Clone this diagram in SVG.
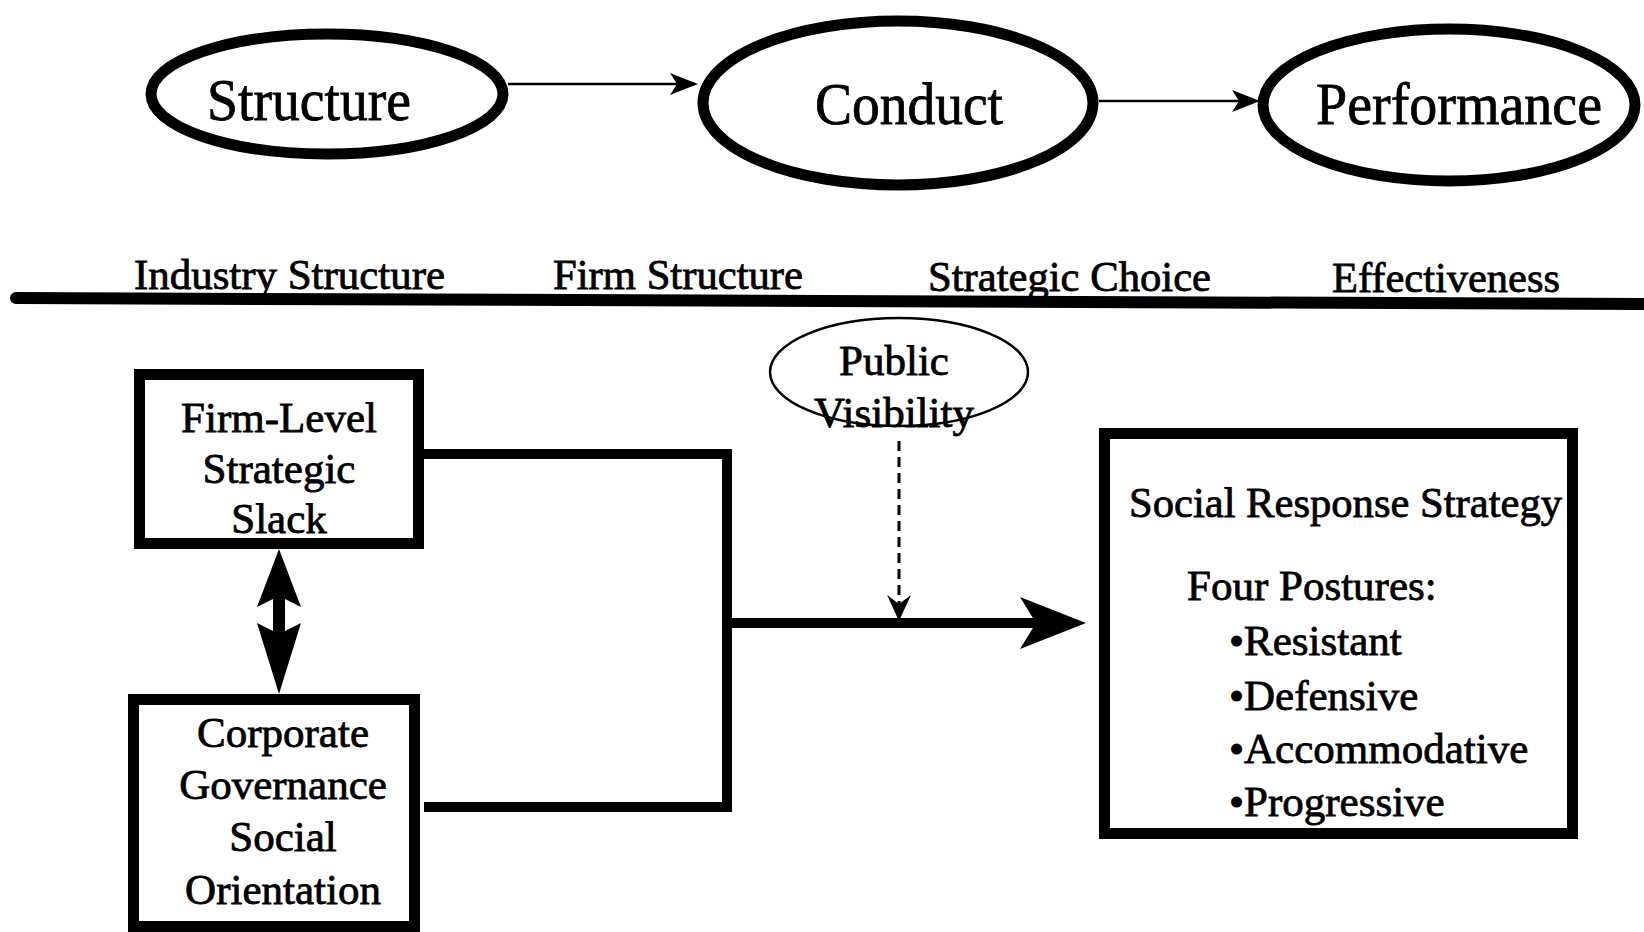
<svg xmlns="http://www.w3.org/2000/svg" width="1644" height="932" viewBox="0 0 1644 932">
  <style>
    .t { font-family: "Liberation Serif", "Times New Roman", serif; fill: #000; stroke: #000; stroke-width: 0.8; }
    .big { font-size: 60px; }
    .mid { font-size: 43px; }
    .ring { fill: none; stroke: #000; stroke-width: 11; }
    .box { fill: none; stroke: #000; stroke-width: 11; }
    .thin { fill: none; stroke: #000; stroke-width: 2.5; }
    .wire { fill: none; stroke: #000; stroke-width: 10; }
    .head { fill: #000; stroke: none; }
  </style>
  <rect width="1644" height="932" fill="#fff"/>

  <!-- Top row: Structure / Conduct / Performance -->
  <g id="structure">
    <ellipse cx="327" cy="94" rx="176" ry="60" class="ring"/>
    <text class="t big" x="309" y="120" text-anchor="middle" textLength="204" lengthAdjust="spacingAndGlyphs">Structure</text>
  </g>
  <g id="conduct">
    <ellipse cx="898" cy="103" rx="195" ry="82" class="ring"/>
    <text class="t big" x="909" y="124" text-anchor="middle" textLength="188" lengthAdjust="spacingAndGlyphs">Conduct</text>
  </g>
  <g id="performance">
    <ellipse cx="1449" cy="105" rx="186" ry="76" class="ring"/>
    <text class="t big" x="1459" y="124" text-anchor="middle" textLength="286" lengthAdjust="spacingAndGlyphs">Performance</text>
  </g>

  <!-- Stage labels above the divider -->
  <g id="stage-labels">
    <text class="t mid" x="134" y="289" textLength="311" lengthAdjust="spacingAndGlyphs">Industry Structure</text>
    <text class="t mid" x="553" y="289" textLength="250" lengthAdjust="spacingAndGlyphs">Firm Structure</text>
    <text class="t mid" x="928" y="291" textLength="283" lengthAdjust="spacingAndGlyphs">Strategic Choice</text>
    <text class="t mid" x="1332" y="292" textLength="228" lengthAdjust="spacingAndGlyphs">Effectiveness</text>
  </g>
  <line id="divider" x1="16" y1="298" x2="1644" y2="304" stroke="#000" stroke-width="12" stroke-linecap="round"/>

  <!-- Lower model -->
  <g id="slack">
    <rect x="139.5" y="374.5" width="279" height="169" class="box"/>
    <text class="t mid" x="279" y="432" text-anchor="middle">Firm-Level</text>
    <text class="t mid" x="279" y="483" text-anchor="middle">Strategic</text>
    <text class="t mid" x="279" y="533" text-anchor="middle">Slack</text>
  </g>
  <g id="governance">
    <rect x="133.5" y="699.5" width="281" height="227" class="box"/>
    <text class="t mid" x="283" y="747" text-anchor="middle">Corporate</text>
    <text class="t mid" x="283" y="799" text-anchor="middle">Governance</text>
    <text class="t mid" x="283" y="851" text-anchor="middle">Social</text>
    <text class="t mid" x="283" y="904" text-anchor="middle">Orientation</text>
  </g>
  <g id="visibility">
    <ellipse cx="899" cy="372" rx="129" ry="54" class="thin"/>
    <text class="t mid" x="894" y="375" text-anchor="middle">Public</text>
    <text class="t mid" x="894" y="427" text-anchor="middle">Visibility</text>
  </g>
  <g id="response">
    <rect x="1104.5" y="433.5" width="468" height="400" class="box"/>
    <text class="t mid" x="1129" y="517" textLength="433" lengthAdjust="spacingAndGlyphs">Social Response Strategy</text>
    <text class="t mid" x="1187" y="600">Four Postures:</text>
    <text class="t mid" x="1229" y="655">•Resistant</text>
    <text class="t mid" x="1229" y="710">•Defensive</text>
    <text class="t mid" x="1229" y="763">•Accommodative</text>
    <text class="t mid" x="1229" y="816">•Progressive</text>
  </g>

  <g id="connectors">
    <!-- Structure to Conduct -->
    <line x1="508" y1="84" x2="680" y2="84" stroke="#000" stroke-width="2.5"/>
    <path class="head" d="M698,84 L670,73 L677,84 L670,95 Z"/>
    <!-- Conduct to Performance -->
    <line x1="1099" y1="101" x2="1242" y2="101" stroke="#000" stroke-width="2.5"/>
    <path class="head" d="M1260,101 L1232,90 L1239,101 L1232,112 Z"/>

    <!-- Slack and governance feed into one path -->
    <polyline points="424,454 727,454 727,807 424,807" class="wire" stroke-linejoin="miter"/>
    <line x1="727" y1="623" x2="1040" y2="623" stroke="#000" stroke-width="10"/>
    <path class="head" d="M1086,623 L1020,597 L1036,623 L1020,649 Z"/>

    <!-- Two-way link between slack and governance -->
    <line x1="279" y1="590" x2="279" y2="640" stroke="#000" stroke-width="12"/>
    <path class="head" d="M279,549 L257,607 L279,596 L301,607 Z"/>
    <path class="head" d="M279,694 L257,623 L279,634 L301,623 Z"/>

    <!-- Moderating effect of public visibility -->
    <line x1="899" y1="441" x2="899" y2="608" stroke="#000" stroke-width="3" stroke-dasharray="10,6"/>
    <path class="head" d="M899,621 L887,595 L899,604 L911,595 Z"/>
  </g>
</svg>
